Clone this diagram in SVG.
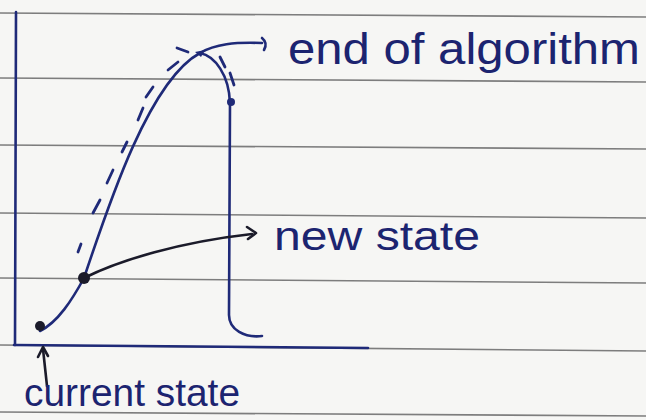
<svg xmlns="http://www.w3.org/2000/svg" width="646" height="420" viewBox="0 0 646 420">
<style>
.rule{stroke:#7d7d7d;stroke-width:1.6;fill:none}
.ink{stroke:#1f2a78;stroke-width:2.6;fill:none;stroke-linecap:round;stroke-linejoin:round}
.dark{stroke:#1b1b2a;stroke-width:2.6;fill:none;stroke-linecap:round;stroke-linejoin:round}
.dash{stroke:#1f2a78;stroke-width:2.8;fill:none;stroke-linecap:round}
.lbl{font-family:"Liberation Sans",Arial,sans-serif;fill:#1c2470;font-weight:normal}
</style>
<rect width="646" height="420" fill="#f6f6f4"/>
<g id="paper">
<line class="rule" x1="0" y1="13" x2="646" y2="17"/>
<line class="rule" x1="0" y1="78" x2="646" y2="82"/>
<line class="rule" x1="0" y1="145" x2="646" y2="149"/>
<line class="rule" x1="0" y1="213" x2="646" y2="218"/>
<line class="rule" x1="0" y1="278" x2="646" y2="283"/>
<line class="rule" x1="0" y1="345" x2="646" y2="351"/>
<line class="rule" x1="0" y1="412" x2="646" y2="416"/>
</g>
<g id="axes">
<line class="ink" x1="16" y1="12" x2="15" y2="345"/>
<line class="ink" x1="14" y1="345" x2="368" y2="348"/>
</g>
<g id="connectors">
<path id="curve" class="ink" d="M40,331 C58,322 72,300 84,278 C110,200 150,80 200,53 C215,56 229,75 230,103 L229,315 C229,330 245,338 262,336"/>
<path id="dash-left" class="dash" d="M78,252 L81,244 M93,213 L100,200 M107,183 L113,170 M122,152 L127,142 M138,120 L143,108 M146,97 L153,87 M168,70 L178,62 M177,48 L188,52"/>
<path id="dash-right" class="dash" d="M220,57 L225,67 M230,73 L234,85"/>
<path id="arrow-end" class="ink" d="M200,53 C215,44 235,42 262,43"/>
<path class="ink" d="M262,38 Q268,43 264,50"/>
<path id="arrow-new" class="dark" d="M84,278 C120,260 180,242 252,234"/>
<path class="dark" d="M247,227 L256,233 L248,239"/>
<path id="arrow-cur" class="dark" d="M47,386 L43,349"/>
<path class="dark" d="M38,357 L43,347 L48,356"/>
</g>
<g id="current-state">
<circle cx="40" cy="326" r="5" fill="#1b1b2a"/>
<text class="lbl" x="24" y="406" font-size="38" textLength="216" lengthAdjust="spacingAndGlyphs">current state</text>
</g>
<g id="new-state">
<circle cx="84" cy="278" r="6" fill="#1b1b2a"/>
<text class="lbl" x="274" y="250" font-size="40" textLength="206" lengthAdjust="spacingAndGlyphs">new state</text>
</g>
<g id="end-of-algorithm">
<path d="M195,52 L205,50 L201,57 Z" fill="#1f2a78"/>
<circle cx="231" cy="102" r="4" fill="#1f2a78"/>
<text class="lbl" x="288" y="64" font-size="44" textLength="352" lengthAdjust="spacingAndGlyphs">end of algorithm</text>
</g>
</svg>
